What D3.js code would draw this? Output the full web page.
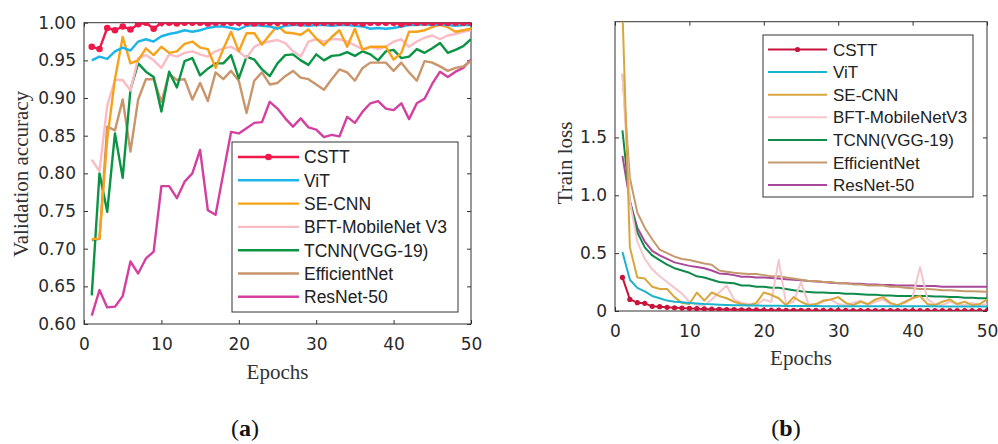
<!DOCTYPE html>
<html>
<head>
<meta charset="utf-8">
<script src="https://cdn.jsdelivr.net/npm/d3@7"></script>
<style>
  html, body { margin: 0; padding: 0; background: #fff; }
  svg { display: block; }
</style>
</head>
<body>
<svg id="chart" width="998" height="444"></svg>
<script>
// ---------------- DATA ----------------
const epochs = d3.range(1, 51);

const namesA = ["CSTT", "ViT", "SE-CNN", "BFT-MobileNet V3", "TCNN(VGG-19)", "EfficientNet", "ResNet-50"];
const namesB = ["CSTT", "ViT", "SE-CNN", "BFT-MobileNetV3", "TCNN(VGG-19)", "EfficientNet", "ResNet-50"];

const colorsA = ["#f0174a", "#1bb5ea", "#f7a21b", "#f9bcc4", "#0b9443", "#c9956b", "#d3409f"];
const colorsB = ["#c8143c", "#1cb4cc", "#d9a63e", "#f4c6cc", "#0d8a4c", "#c49a6c", "#a8489a"];

// (a) validation accuracy
const csttAcc = [0.968,0.965,0.993,0.990,0.995,0.991,0.998,1.000,0.992,1.000,
                 1.000,0.999,1.000,1.000,1.000,0.999,1.000,1.000,1.000,1.000,
                 1.000,0.999,1.000,1.000,1.000,1.000,1.000,0.999,1.000,1.000,
                 1.000,1.000,1.000,1.000,1.000,0.999,1.000,1.000,1.000,1.000,
                 0.998,1.000,1.000,1.000,1.000,1.000,1.000,1.000,1.000,1.000];
const vitAcc  = [0.950,0.955,0.952,0.962,0.967,0.963,0.975,0.978,0.975,0.982,
                 0.985,0.987,0.990,0.988,0.990,0.993,0.995,0.995,0.993,0.991,
                 0.996,0.997,0.996,0.995,0.992,0.996,0.997,0.997,0.996,0.997,
                 0.997,0.996,0.997,0.997,0.996,0.995,0.992,0.993,0.992,0.993,
                 0.995,0.997,0.997,0.998,0.997,0.998,0.997,0.996,0.997,0.997];
const seAcc   = [0.713,0.713,0.845,0.925,0.981,0.946,0.950,0.966,0.957,0.968,
                 0.960,0.962,0.972,0.975,0.967,0.965,0.940,0.965,0.988,0.962,
                 0.986,0.986,0.971,0.984,0.996,0.987,0.986,0.984,0.991,0.979,
                 0.970,0.981,0.990,0.968,0.992,0.964,0.968,0.968,0.968,0.951,
                 0.960,0.988,0.988,0.990,0.994,0.997,0.994,0.988,0.990,0.992];
const bftAcc  = [0.818,0.803,0.890,0.924,0.924,0.910,0.953,0.957,0.950,0.940,
                 0.958,0.955,0.960,0.962,0.958,0.955,0.962,0.966,0.968,0.962,
                 0.953,0.968,0.973,0.975,0.977,0.973,0.962,0.955,0.975,0.978,
                 0.975,0.978,0.978,0.975,0.970,0.965,0.968,0.965,0.968,0.975,
                 0.978,0.968,0.975,0.980,0.983,0.978,0.983,0.985,0.988,0.990];
const tcnnAcc = [0.638,0.800,0.749,0.853,0.794,0.911,0.946,0.935,0.928,0.882,
                 0.935,0.914,0.949,0.953,0.930,0.939,0.946,0.946,0.957,0.926,
                 0.955,0.951,0.938,0.929,0.946,0.957,0.958,0.950,0.944,0.958,
                 0.950,0.956,0.957,0.961,0.956,0.962,0.958,0.950,0.962,0.964,
                 0.953,0.955,0.965,0.960,0.966,0.973,0.960,0.964,0.969,0.978];
const effAcc  = [0.711,0.713,0.862,0.857,0.898,0.829,0.898,0.925,0.925,0.895,
                 0.932,0.924,0.925,0.898,0.920,0.896,0.934,0.925,0.936,0.923,
                 0.880,0.923,0.934,0.918,0.920,0.929,0.936,0.927,0.925,0.918,
                 0.911,0.925,0.938,0.934,0.923,0.940,0.947,0.947,0.947,0.936,
                 0.947,0.934,0.923,0.949,0.947,0.942,0.936,0.940,0.942,0.949];
const resAcc  = [0.611,0.645,0.622,0.623,0.637,0.683,0.667,0.687,0.696,0.783,
                 0.783,0.767,0.789,0.800,0.831,0.751,0.745,0.800,0.855,0.853,
                 0.860,0.867,0.868,0.895,0.886,0.873,0.862,0.873,0.861,0.858,
                 0.848,0.851,0.849,0.875,0.867,0.882,0.893,0.896,0.886,0.884,
                 0.893,0.872,0.893,0.899,0.919,0.935,0.928,0.935,0.940,0.951];

// (b) train loss
const csttLoss = [0.29,0.10,0.072,0.066,0.040,0.037,0.032,0.028,0.025,0.022,
                  0.020,0.018,0.016,0.015,0.013,0.012,0.011,0.010,0.009,0.008,
                  0.007,0.007,0.006,0.006,0.006,0.005,0.005,0.005,0.005,0.005,
                  0.005,0.004,0.004,0.004,0.004,0.004,0.004,0.004,0.004,0.004,
                  0.003,0.003,0.003,0.003,0.003,0.003,0.003,0.003,0.003,0.003];
const vitLoss  = [0.51,0.27,0.20,0.17,0.13,0.11,0.09,0.08,0.075,0.07,
                  0.065,0.06,0.058,0.055,0.052,0.050,0.050,0.048,0.047,0.046,
                  0.045,0.045,0.044,0.044,0.043,0.043,0.043,0.042,0.042,0.042,
                  0.042,0.041,0.041,0.041,0.041,0.040,0.040,0.040,0.040,0.040,
                  0.040,0.040,0.040,0.039,0.039,0.039,0.039,0.039,0.039,0.039];
const seLoss   = [2.60,0.55,0.29,0.28,0.21,0.19,0.19,0.12,0.07,0.06,
                  0.16,0.09,0.16,0.13,0.11,0.08,0.06,0.05,0.07,0.16,
                  0.14,0.11,0.05,0.12,0.08,0.05,0.06,0.09,0.10,0.12,
                  0.07,0.05,0.08,0.06,0.10,0.12,0.07,0.05,0.08,0.11,
                  0.13,0.06,0.05,0.08,0.10,0.06,0.08,0.05,0.06,0.10];
const bftLoss  = [2.05,0.95,0.60,0.45,0.36,0.30,0.25,0.20,0.15,0.08,
                  0.05,0.05,0.10,0.16,0.22,0.10,0.07,0.06,0.05,0.10,
                  0.08,0.44,0.06,0.08,0.25,0.06,0.05,0.08,0.10,0.06,
                  0.05,0.07,0.09,0.05,0.08,0.10,0.06,0.05,0.07,0.12,
                  0.38,0.10,0.06,0.05,0.08,0.06,0.05,0.07,0.05,0.06];
const tcnnLoss = [1.56,0.95,0.68,0.55,0.48,0.44,0.40,0.37,0.35,0.33,
                  0.30,0.29,0.27,0.25,0.245,0.24,0.22,0.22,0.21,0.21,
                  0.20,0.20,0.19,0.18,0.17,0.165,0.16,0.16,0.155,0.155,
                  0.15,0.15,0.145,0.14,0.14,0.135,0.135,0.13,0.13,0.13,
                  0.13,0.13,0.125,0.125,0.12,0.12,0.115,0.115,0.11,0.11];
const effLoss  = [2.05,1.15,0.85,0.72,0.62,0.53,0.50,0.47,0.45,0.44,
                  0.425,0.41,0.40,0.35,0.34,0.33,0.325,0.32,0.32,0.31,
                  0.30,0.30,0.29,0.28,0.27,0.26,0.26,0.25,0.25,0.24,
                  0.24,0.23,0.23,0.22,0.22,0.22,0.21,0.21,0.20,0.196,
                  0.19,0.19,0.185,0.18,0.18,0.175,0.17,0.17,0.168,0.166];
const resLoss  = [1.34,0.95,0.72,0.60,0.52,0.48,0.45,0.42,0.405,0.39,
                  0.38,0.37,0.35,0.325,0.32,0.31,0.296,0.296,0.29,0.29,
                  0.285,0.28,0.275,0.27,0.265,0.26,0.255,0.25,0.245,0.24,
                  0.24,0.235,0.235,0.23,0.23,0.225,0.225,0.22,0.22,0.22,
                  0.215,0.215,0.215,0.21,0.21,0.21,0.21,0.21,0.21,0.21];

const xTicks = [0, 10, 20, 30, 40, 50];
const yTicksA = [0.60, 0.65, 0.70, 0.75, 0.80, 0.85, 0.90, 0.95, 1.00];
const yTicksB = [0, 0.5, 1.0, 1.5];

// ---------------- DRAW ----------------
const svg = d3.select("#chart");
const TICK_FONT = "'DejaVu Sans', sans-serif";
const LEG_FONT = "'Liberation Sans', Arial, sans-serif";
const SERIF = "'Liberation Serif', 'Times New Roman', serif";

function panel(cfg) {
  const g = svg.append("g");
  const x = d3.scaleLinear().domain([0, 50]).range([cfg.left, cfg.right]);
  const y = d3.scaleLinear().domain(cfg.yDomain).range([cfg.bottom, cfg.top]);

  const clipId = "clip-" + cfg.id;
  svg.append("defs").append("clipPath").attr("id", clipId)
    .append("rect").attr("x", cfg.left).attr("y", cfg.top)
    .attr("width", cfg.right - cfg.left).attr("height", cfg.bottom - cfg.top);

  const styleAxis = (sel, labels) => {
    sel.select(".domain").remove();
    sel.selectAll(".tick line").attr("stroke", "#333").attr("stroke-width", 1);
    sel.selectAll(".tick text").attr("fill", "#2a2a2a")
      .style("font-family", TICK_FONT).style("font-size", "17px");
    if (!labels) sel.selectAll(".tick text").remove();
  };

  g.append("g").attr("transform", `translate(0,${cfg.bottom})`)
    .call(d3.axisBottom(x).tickValues(xTicks).tickSize(-4).tickSizeOuter(0).tickPadding(14).tickFormat(d3.format("d")))
    .call(s => styleAxis(s, true));
  g.append("g").attr("transform", `translate(0,${cfg.top})`)
    .call(d3.axisTop(x).tickValues(xTicks).tickSize(-4).tickSizeOuter(0))
    .call(s => styleAxis(s, false));
  g.append("g").attr("transform", `translate(${cfg.left},0)`)
    .call(d3.axisLeft(y).tickValues(cfg.yTicks).tickSize(-4).tickSizeOuter(0).tickPadding(8).tickFormat(cfg.yFormat))
    .call(s => styleAxis(s, true));
  g.append("g").attr("transform", `translate(${cfg.right},0)`)
    .call(d3.axisRight(y).tickValues(cfg.yTicks).tickSize(-4).tickSizeOuter(0))
    .call(s => styleAxis(s, false));

  g.append("rect").attr("x", cfg.left).attr("y", cfg.top)
    .attr("width", cfg.right - cfg.left).attr("height", cfg.bottom - cfg.top)
    .attr("fill", "none").attr("stroke", "#333").attr("stroke-width", 1);

  const line = d3.line().x((d, i) => x(epochs[i])).y(d => y(d));
  const lines = g.append("g").attr("clip-path", `url(#${clipId})`);
  for (let k = cfg.series.length - 1; k >= 0; k--) {
    lines.append("path").datum(cfg.series[k])
      .attr("d", line).attr("fill", "none")
      .attr("stroke", cfg.colors[k]).attr("stroke-width", cfg.lw)
      .attr("stroke-linejoin", "round");
  }
  lines.selectAll("circle.m").data(cfg.series[0]).join("circle")
    .attr("class", "m")
    .attr("cx", (d, i) => x(epochs[i])).attr("cy", d => y(d))
    .attr("r", cfg.markerR).attr("fill", cfg.colors[0]);

  g.append("text").attr("x", (cfg.left + cfg.right) / 2).attr("y", cfg.xlabelY)
    .attr("text-anchor", "middle").style("font-family", SERIF).style("font-size", "21px")
    .attr("fill", "#333").text("Epochs");
  g.append("text").attr("transform", `translate(${cfg.ylabelX},${cfg.ylabelCY}) rotate(-90)`)
    .attr("text-anchor", "middle").style("font-family", SERIF).style("font-size", "21px")
    .attr("fill", "#333").text(cfg.ylabel);

  const L = cfg.legend;
  const lg = g.append("g");
  lg.append("rect").attr("x", L.x0).attr("y", L.y0).attr("width", L.x1 - L.x0).attr("height", L.y1 - L.y0)
    .attr("fill", "#fff").attr("stroke", "#333").attr("stroke-width", 1);
  cfg.names.forEach((n, k) => {
    const cy = L.first + k * L.step;
    lg.append("line").attr("x1", L.s0).attr("x2", L.s1).attr("y1", cy).attr("y2", cy)
      .attr("stroke", cfg.colors[k]).attr("stroke-width", cfg.lw);
    if (k === 0) lg.append("circle").attr("cx", (L.s0 + L.s1) / 2).attr("cy", cy)
      .attr("r", cfg.markerR).attr("fill", cfg.colors[0]);
    lg.append("text").attr("x", L.tx).attr("y", cy).attr("dy", "0.36em")
      .style("font-family", LEG_FONT).style("font-size", L.fs + "px").attr("fill", "#222").text(n);
  });

  const cap = g.append("text").attr("x", cfg.capX).attr("y", 436).attr("text-anchor", "middle")
    .style("font-family", SERIF).style("font-size", "24px").attr("fill", "#111");
  cap.append("tspan").text("(");
  cap.append("tspan").attr("font-weight", "bold").text(cfg.cap);
  cap.append("tspan").text(")");
}

panel({
  id: "a", left: 84, right: 471, top: 22.7, bottom: 324,
  yDomain: [0.6, 1.0], yTicks: yTicksA, yFormat: d3.format(".2f"),
  series: [csttAcc, vitAcc, seAcc, bftAcc, tcnnAcc, effAcc, resAcc],
  colors: colorsA, names: namesA, lw: 2.4, markerR: 3.3,
  xlabelY: 379, ylabelX: 28, ylabelCY: 174, ylabel: "Validation accuracy",
  legend: { x0: 232, x1: 458, y0: 142, y1: 312, first: 157, step: 23.3, s0: 238, s1: 299, tx: 304, fs: 17.5 },
  capX: 245, cap: "a"
});

panel({
  id: "b", left: 615, right: 987, top: 21.7, bottom: 311,
  yDomain: [0, 2.5], yTicks: yTicksB, yFormat: d => d === 0 ? "0" : d3.format(".1f")(d),
  series: [csttLoss, vitLoss, seLoss, bftLoss, tcnnLoss, effLoss, resLoss],
  colors: colorsB, names: namesB, lw: 2, markerR: 2.6,
  xlabelY: 365, ylabelX: 572, ylabelCY: 163, ylabel: "Train loss",
  legend: { x0: 763, x1: 973, y0: 35, y1: 197, first: 49.5, step: 22.6, s0: 768, s1: 827, tx: 833, fs: 17 },
  capX: 786, cap: "b"
});
</script>
</body>
</html>
